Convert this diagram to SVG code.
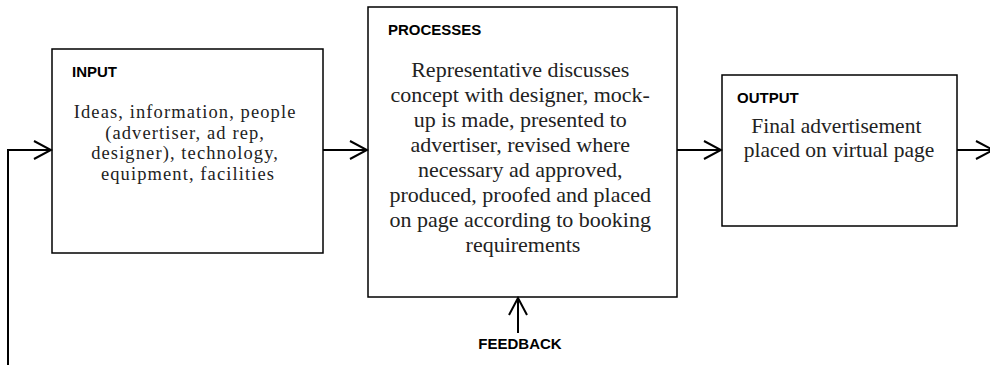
<svg xmlns="http://www.w3.org/2000/svg" width="990" height="366" viewBox="0 0 990 366">
<style>
.box{fill:#fff;stroke:#000;stroke-width:1.5}
.hd{font-family:"Liberation Sans",Arial,sans-serif;font-weight:bold;font-size:15px;fill:#000}
.tx{font-family:"Liberation Serif","Times New Roman",serif;font-size:22px;fill:#222;text-anchor:middle}
.sm{font-size:18.5px;letter-spacing:1.1px}
.md{font-size:21.5px}
.cn{fill:none;stroke:#000;stroke-width:2}
</style>
<defs>
<marker id="arr" markerUnits="userSpaceOnUse" markerWidth="20" markerHeight="22" viewBox="0 0 20 22" refX="18" refY="11" orient="auto">
<path d="M1,2 L18,11 L1,20" fill="none" stroke="#000" stroke-width="2"/>
</marker>
</defs>
<rect width="990" height="366" fill="#fff"/>
<g id="input">
<rect class="box" x="52" y="49" width="271" height="204"/>
<text class="hd" x="72" y="77">INPUT</text>
<text class="tx sm">
<tspan x="188" y="118">Ideas, information, people</tspan>
<tspan x="188" y="138.5">(advertiser, ad rep,</tspan>
<tspan x="188" y="159">designer), technology,</tspan>
<tspan x="188" y="179.5">equipment, facilities</tspan>
</text>
</g>
<g id="processes">
<rect class="box" x="368" y="7" width="309" height="290"/>
<text class="hd" x="388" y="35">PROCESSES</text>
<text class="tx">
<tspan x="523" y="77">Representative discusses</tspan>
<tspan x="523" y="102">concept with designer, mock-</tspan>
<tspan x="523" y="127">up is made, presented to</tspan>
<tspan x="523" y="152">advertiser, revised where</tspan>
<tspan x="523" y="177">necessary ad approved,</tspan>
<tspan x="523" y="202">produced, proofed and placed</tspan>
<tspan x="523" y="227">on page according to booking</tspan>
<tspan x="523" y="252">requirements</tspan>
</text>
</g>
<g id="output">
<rect class="box" x="722" y="75" width="235" height="151"/>
<text class="hd" x="737" y="103">OUTPUT</text>
<text class="tx md">
<tspan x="839" y="133">Final advertisement</tspan>
<tspan x="839" y="157">placed on virtual page</tspan>
</text>
</g>
<g id="feedback">
<text class="hd" x="520" y="349" text-anchor="middle">FEEDBACK</text>
</g>
<g id="connectors">
<path class="cn" d="M8,365 V150 H51" marker-end="url(#arr)"/>
<path class="cn" d="M323,150 H367" marker-end="url(#arr)"/>
<path class="cn" d="M677,150 H721" marker-end="url(#arr)"/>
<path class="cn" d="M957,150 H993" marker-end="url(#arr)"/>
<path class="cn" d="M518,333 V298" marker-end="url(#arr)"/>
</g>
</svg>
